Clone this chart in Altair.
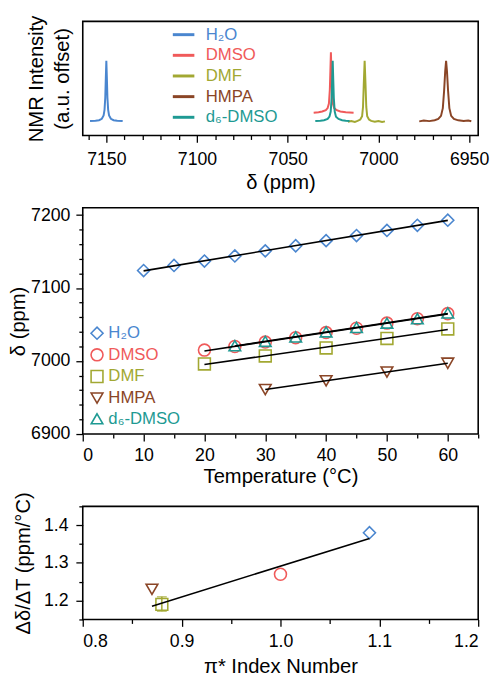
import altair as alt
import pandas as pd

# ---------------- categories / styles ----------------
solvents = ["H₂O", "DMSO", "DMF", "HMPA", "d₆-DMSO"]
colors = ["#4A86CF", "#F05A5A", "#A2A832", "#8A4526", "#1E9A93"]
shapes = ["diamond", "circle", "square", "triangle-down", "triangle-up"]
marker_sizes = [150, 140, 100, 150, 150]

# ---------------- NMR spectra (ppm, offset intensity) ----------------
h2o_ppm = [7159, 7156, 7154, 7152.5, 7151.5, 7151, 7150.6, 7150.3, 7150.0, 7149.7, 7149.4, 7149, 7148.5, 7147.5, 7146, 7144, 7141]
h2o_int = [0.127, 0.130, 0.134, 0.146, 0.175, 0.225, 0.330, 0.500, 0.655, 0.500, 0.330, 0.225, 0.175, 0.146, 0.134, 0.130, 0.127]

dmso_ppm = [7035.7, 7033, 7031, 7029, 7028, 7027.3, 7026.8, 7026.5, 7026.2, 7025.9, 7025.6, 7025.1, 7024.4, 7023, 7021, 7018, 7013.7]
dmso_int = [0.200, 0.204, 0.210, 0.222, 0.240, 0.280, 0.400, 0.560, 0.730, 0.560, 0.400, 0.280, 0.240, 0.222, 0.210, 0.204, 0.200]

dmf_ppm = [7016.8, 7015, 7013, 7011.5, 7010, 7009, 7008.5, 7008.1, 7007.6, 7007.1, 7006.7, 7006.2, 7005.2, 7004, 7002, 7000, 6998, 6996.4]
dmf_int = [0.121, 0.126, 0.119, 0.128, 0.140, 0.170, 0.250, 0.440, 0.655, 0.440, 0.250, 0.170, 0.140, 0.128, 0.120, 0.127, 0.118, 0.124]

hmpa_ppm = [6977.5, 6975, 6972, 6969, 6967, 6965.5, 6964.5, 6963.8, 6963.2, 6962.7, 6962.2, 6961.6, 6960.9, 6959.9, 6958.4, 6956, 6953, 6950.5, 6948.8]
hmpa_int = [0.124, 0.131, 0.126, 0.134, 0.145, 0.172, 0.240, 0.390, 0.560, 0.655, 0.560, 0.390, 0.240, 0.172, 0.145, 0.133, 0.127, 0.131, 0.125]

d6_ppm = [7034.8, 7032, 7030, 7028, 7027, 7026.3, 7025.8, 7025.5, 7025.2, 7024.9, 7024.6, 7024.1, 7023.4, 7022, 7020, 7018, 7015.9]
d6_int = [0.127, 0.130, 0.134, 0.145, 0.165, 0.210, 0.330, 0.490, 0.655, 0.490, 0.330, 0.210, 0.165, 0.145, 0.134, 0.130, 0.127]

# ---------------- chemical shift vs temperature ----------------
h2o_temp = [10, 15, 20, 25, 30, 35, 40, 45, 50, 55, 60]
h2o_shift = [7124, 7131, 7137, 7144, 7151, 7158, 7165, 7172, 7179, 7186, 7193]
dmso_temp = [20, 25, 30, 35, 40, 45, 50, 55, 60]
dmso_shift = [7015, 7020, 7026, 7032, 7039, 7045, 7052, 7058, 7065]
dmf_temp = [20, 30, 40, 50, 60]
dmf_shift = [6996, 7007, 7018, 7031, 7044]
hmpa_temp = [30, 40, 50, 60]
hmpa_shift = [6961, 6973, 6985, 6997]
d6_temp = [25, 30, 35, 40, 45, 50, 55, 60]
d6_shift = [7021, 7027, 7033, 7040, 7046, 7052, 7058, 7066]

# ---------------- slope vs pi* ----------------
pi_solvents = ["H₂O", "DMSO", "DMF", "HMPA"]
pi_star = [1.09, 1.00, 0.88, 0.87]
slope = [1.38, 1.27, 1.19, 1.23]
err_pi = [0.88]
err_lo = [1.172]
err_hi = [1.210]
fit_pi = [0.87, 1.09]
fit_slope = [1.185, 1.365]

# ---------------- tick values ----------------
ppm_major = [7150, 7100, 7050, 7000, 6950]
ppm_minor = [7160, 7140, 7130, 7120, 7110, 7090, 7080, 7070, 7060, 7040, 7030,
             7020, 7010, 6990, 6980, 6970, 6960]
temp_major = [0, 10, 20, 30, 40, 50, 60]
temp_minor = [5, 15, 25, 35, 45, 55, 65]
shift_major = [6900, 7000, 7100, 7200]
shift_minor = [6920, 6940, 6960, 6980, 7020, 7040, 7060, 7080, 7120, 7140, 7160, 7180]
pi_major = [0.8, 0.9, 1.0, 1.1, 1.2]
pi_minor = [0.85, 0.95, 1.05, 1.15]
slope_major = [1.2, 1.3, 1.4]
slope_minor = [1.15, 1.25, 1.35, 1.45]

# ---------------- tables ----------------
spec_rows = []
for name, xs, ys in [("H₂O", h2o_ppm, h2o_int), ("DMSO", dmso_ppm, dmso_int),
                     ("DMF", dmf_ppm, dmf_int), ("HMPA", hmpa_ppm, hmpa_int),
                     ("d₆-DMSO", d6_ppm, d6_int)]:
    for a, b in zip(xs, ys):
        spec_rows.append({"solvent": name, "ppm": a, "intensity": b})
spec_df = pd.DataFrame(spec_rows)

temp_rows = []
for name, xs, ys in [("H₂O", h2o_temp, h2o_shift), ("DMSO", dmso_temp, dmso_shift),
                     ("DMF", dmf_temp, dmf_shift), ("HMPA", hmpa_temp, hmpa_shift),
                     ("d₆-DMSO", d6_temp, d6_shift)]:
    for a, b in zip(xs, ys):
        temp_rows.append({"solvent": name, "temp": a, "shift": b})
temp_df = pd.DataFrame(temp_rows)

pi_df = pd.DataFrame({"solvent": pi_solvents, "pi": pi_star, "slope": slope})
err_df = pd.DataFrame({"pi": err_pi, "slope": err_lo, "slope_hi": err_hi})
fit_df = pd.DataFrame({"pi": fit_pi, "slope": fit_slope})

FONT = "Liberation Sans"
label_color_expr = " : ".join(
    f"datum.label === '{s}' ? '{c}'" for s, c in zip(solvents, colors)) + " : 'black'"

color_scale = alt.Scale(domain=solvents, range=colors)
shape_scale = alt.Scale(domain=solvents, range=shapes)
size_scale = alt.Scale(domain=solvents, range=marker_sizes)

MAJ, MIN = 7, 4


def minor_axis(values, orient):
    return alt.Axis(values=values, orient=orient, labels=False, title=None,
                    tickSize=MIN, domain=False, grid=False)


# ---------------- top panel ----------------
top_legend = alt.Legend(orient="none", legendX=90, legendY=1, title=None,
                        symbolType="stroke", symbolStrokeWidth=3, symbolSize=480,
                        labelFontSize=17, labelFont=FONT,
                        labelColor={"expr": label_color_expr},
                        labelOffset=10, rowPadding=0, padding=0)

top_xs = alt.Scale(domain=[6945, 7163], reverse=True, nice=False, zero=False)
top_ys = alt.Scale(domain=[0, 1], nice=False, zero=False)

top_lines = alt.Chart(spec_df).mark_line(strokeWidth=2).encode(
    x=alt.X("ppm:Q", scale=top_xs,
            axis=alt.Axis(values=ppm_major, orient="bottom", title="δ (ppm)", format="d",
                          tickSize=MAJ, labelPadding=8, titlePadding=5)),
    y=alt.Y("intensity:Q", scale=top_ys,
            axis=alt.Axis(title=["NMR Intensity", "(a.u. offset)"], orient="left",
                          ticks=False, labels=False, domain=False, titlePadding=10,
                          titleLineHeight=27)),
    color=alt.Color("solvent:N", scale=color_scale, legend=top_legend),
)
top_minor = alt.Chart(spec_df).mark_line(strokeOpacity=0).encode(
    x=alt.X("ppm:Q", scale=top_xs, axis=minor_axis(ppm_minor, "bottom")),
    y=alt.Y("intensity:Q", scale=top_ys, axis=None),
    detail="solvent:N",
)
top = alt.layer(top_lines, top_minor).resolve_axis(
    x="independent", y="independent").properties(width=402, height=116)

# ---------------- middle panel ----------------
mid_legend = alt.Legend(orient="none", legendX=6, legendY=119, title=None,
                        symbolStrokeWidth=1.6, labelFontSize=17, labelFont=FONT,
                        labelColor={"expr": label_color_expr},
                        labelOffset=3, rowPadding=3, padding=0)

mxs = alt.Scale(domain=[0, 65], nice=False, zero=False)
mys = alt.Scale(domain=[6900, 7210], nice=False, zero=False)

mid_pts = alt.Chart(temp_df).mark_point(filled=False, strokeWidth=1.6, opacity=1).encode(
    x=alt.X("temp:Q", scale=mxs,
            axis=alt.Axis(values=temp_major, orient="bottom", title="Temperature (°C)",
                          tickSize=MAJ, labelPadding=6, titlePadding=2)),
    y=alt.Y("shift:Q", scale=mys,
            axis=alt.Axis(values=shift_major, orient="left", title="δ (ppm)", format="d",
                          tickSize=MAJ, labelPadding=6, titlePadding=2)),
    color=alt.Color("solvent:N", scale=color_scale, legend=mid_legend),
    shape=alt.Shape("solvent:N", scale=shape_scale, legend=mid_legend),
    size=alt.Size("solvent:N", scale=size_scale, legend=mid_legend),
)
mid_fit = alt.Chart(temp_df).transform_regression(
    "temp", "shift", groupby=["solvent"]
).mark_line(color="black", strokeWidth=1.6).encode(
    x=alt.X("temp:Q", scale=mxs, axis=minor_axis(temp_minor, "bottom")),
    y=alt.Y("shift:Q", scale=mys, axis=minor_axis(shift_minor, "left")),
    detail="solvent:N",
)
middle = alt.layer(mid_pts, mid_fit).resolve_axis(
    x="independent", y="independent").properties(width=402, height=230)

# ---------------- bottom panel ----------------
bxs = alt.Scale(domain=[0.8, 1.2], nice=False, zero=False)
bys = alt.Scale(domain=[1.15, 1.45], nice=False, zero=False)

bot_err = alt.Chart(err_df).mark_errorbar(
    ticks={"size": 10}, thickness=1.5, color=colors[2]
).encode(
    x=alt.X("pi:Q", scale=bxs, axis=None),
    y=alt.Y("slope:Q", scale=bys, axis=None),
    y2="slope_hi:Q",
)
bot_pts = alt.Chart(pi_df).mark_point(filled=False, strokeWidth=1.6, opacity=1).encode(
    x=alt.X("pi:Q", scale=bxs,
            axis=alt.Axis(values=pi_major, orient="bottom", title="π* Index Number",
                          format=".1f", tickSize=MAJ, labelPadding=6, titlePadding=7)),
    y=alt.Y("slope:Q", scale=bys,
            axis=alt.Axis(values=slope_major, orient="left", title="Δδ/ΔT (ppm/°C)",
                          format=".1f", tickSize=MAJ, labelPadding=8, titlePadding=10)),
    color=alt.Color("solvent:N", scale=color_scale, legend=None),
    shape=alt.Shape("solvent:N", scale=shape_scale, legend=None),
    size=alt.Size("solvent:N", scale=size_scale, legend=None),
)
bot_fit = alt.Chart(fit_df).mark_line(color="black", strokeWidth=1.6).encode(
    x=alt.X("pi:Q", scale=bxs, axis=minor_axis(pi_minor, "bottom")),
    y=alt.Y("slope:Q", scale=bys, axis=minor_axis(slope_minor, "left")),
)
bottom = alt.layer(bot_err, bot_pts, bot_fit).resolve_axis(
    x="independent", y="independent").properties(width=402, height=115)

chart = alt.vconcat(top, middle, bottom, spacing=73.5, bounds="flush").resolve_scale(
    color="independent", shape="independent", size="independent",
    x="independent", y="independent"
).resolve_legend(
    color="independent", shape="independent", size="independent"
).properties(
    padding={"left": 0, "top": 0, "right": 0, "bottom": 0}
).configure_axis(
    labelFont=FONT, titleFont=FONT, labelFontSize=18, titleFontSize=20.5,
    labelColor="black", titleColor="black", titleFontWeight="normal",
    tickColor="black", tickWidth=1.3, domain=False, grid=False,
).configure_view(
    stroke="black", strokeWidth=1.6
).configure_legend(
    labelFont=FONT
)

chart.save("out.html", embed_options={"renderer": "svg", "actions": False})
